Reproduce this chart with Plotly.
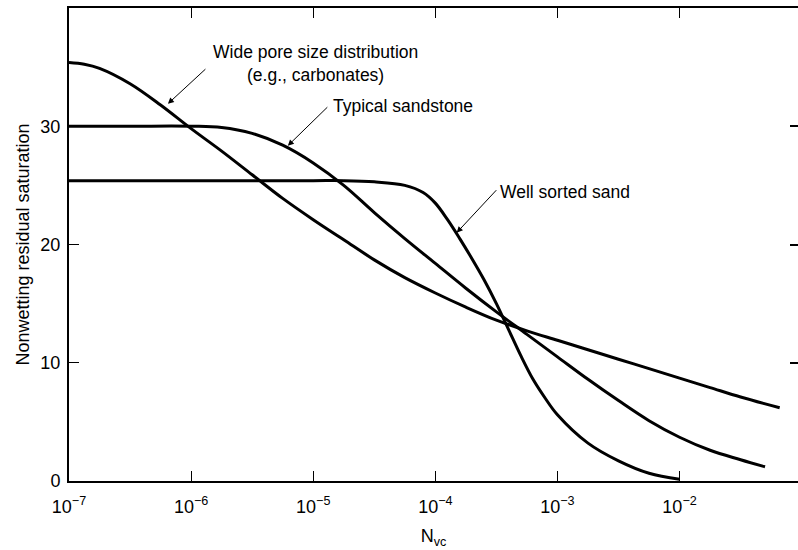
import plotly.graph_objects as go

# log10(N_vc) positions and saturation (%) values
carb_logx = [-7.0, -6.875, -6.75, -6.5, -6.25, -6.0, -5.75, -5.5, -5.25, -5.0, -4.75, -4.5, -4.25,
             -4.0, -3.75, -3.5, -3.25, -3.0, -2.75, -2.5, -2.25, -2.0, -1.75, -1.5, -1.18]
carb_y = [35.4, 35.25, 34.9, 33.6, 31.8, 29.8, 27.9, 25.9, 23.9, 22.1, 20.4, 18.7, 17.2,
          15.9, 14.7, 13.6, 12.7, 11.9, 11.1, 10.3, 9.5, 8.7, 7.9, 7.1, 6.2]

sand_logx = [-7.0, -6.5, -6.0, -5.75, -5.5, -5.25, -5.0, -4.75, -4.5, -4.25, -4.0, -3.75,
             -3.5, -3.25, -3.0, -2.75, -2.5, -2.25, -2.0, -1.75, -1.5, -1.3]
sand_y = [30.0, 30.0, 30.0, 29.9, 29.4, 28.4, 26.9, 25.0, 22.7, 20.5, 18.4, 16.3,
          14.3, 12.4, 10.5, 8.6, 6.8, 5.1, 3.7, 2.6, 1.8, 1.2]

well_logx = [-7.0, -6.0, -5.0, -4.75, -4.5, -4.25, -4.1, -4.0, -3.9, -3.8, -3.7, -3.6,
             -3.5, -3.4, -3.3, -3.2, -3.1, -3.0, -2.75, -2.5, -2.25, -2.0]
well_y = [25.4, 25.4, 25.4, 25.4, 25.3, 25.0, 24.4, 23.5, 22.1, 20.5, 18.8, 17.0,
          15.0, 12.8, 10.6, 8.6, 7.0, 5.6, 3.2, 1.7, 0.65, 0.15]

x_tickvals = [1e-7, 1e-6, 1e-5, 1e-4, 1e-3, 1e-2]
x_ticktext = ["10<sup>−7</sup>", "10<sup>−6</sup>", "10<sup>−5</sup>",
              "10<sup>−4</sup>", "10<sup>−3</sup>", "10<sup>−2</sup>"]
y_tickvals = [0, 10, 20, 30]

FONT = "Liberation Sans, Arial, sans-serif"

fig = go.Figure()
for lx, yy in [(carb_logx, carb_y), (sand_logx, sand_y), (well_logx, well_y)]:
    fig.add_trace(go.Scatter(
        x=[10 ** v for v in lx], y=yy, mode="lines",
        line=dict(color="black", width=3, shape="spline", smoothing=1.0),
        showlegend=False, hoverinfo="skip"))

# invisible trace to enable right-side ticks
fig.add_trace(go.Scatter(x=[1e-7], y=[0], yaxis="y2", mode="markers",
                         marker=dict(opacity=0), showlegend=False, hoverinfo="skip"))

fig.update_layout(
    width=798, height=550,
    margin=dict(l=69, r=0, t=8, b=69),
    paper_bgcolor="white", plot_bgcolor="white",
    font=dict(family=FONT, color="black", size=16),
    xaxis=dict(type="log", range=[-7, -1.03], tickvals=x_tickvals, ticktext=x_ticktext,
               ticks="inside", ticklen=10, tickwidth=1.2, tickcolor="black",
               showline=True, linecolor="black", linewidth=2, mirror="ticks",
               showgrid=False, zeroline=False, tickfont=dict(size=18),
               ticklabelstandoff=8,
               title=dict(text="N<sub>vc</sub>", font=dict(size=18), standoff=14)),
    yaxis=dict(range=[0, 40], tickvals=y_tickvals, ticks="inside", ticklen=10,
               tickwidth=1.2, tickcolor="black", showline=True, linecolor="black",
               linewidth=2, showgrid=False, zeroline=False, tickfont=dict(size=18),
               ticklabelstandoff=3,
               title=dict(text="Nonwetting residual saturation", font=dict(size=18), standoff=6)),
    yaxis2=dict(range=[0, 40], overlaying="y", side="right", tickvals=y_tickvals,
                ticks="inside", ticklen=8, tickwidth=1.5, tickcolor="black",
                showticklabels=False, showline=False, showgrid=False, zeroline=False),
)

ann = [
    dict(x=-4.98, y=35.3, text="Wide pore size distribution<br>(e.g., carbonates)"),
    dict(x=-4.267, y=31.7, text="Typical sandstone"),
    dict(x=-2.941, y=24.4, text="Well sorted sand"),
]
for a in ann:
    fig.add_annotation(x=a["x"], y=a["y"], text=a["text"], showarrow=False,
                       xref="x", yref="y", font=dict(size=17.5, family=FONT), align="center")

arrows = [(-6.19, 31.9, 39, -36), (-5.208, 28.35, 41, -40), (-3.825, 21.0, 41, -44)]
for x, y, ax, ay in arrows:
    fig.add_annotation(x=x, y=y, ax=ax, ay=ay, text="", showarrow=True,
                       arrowhead=2, arrowsize=1.2, arrowwidth=1, arrowcolor="black",
                       xref="x", yref="y")

fig.write_html("out.html")
